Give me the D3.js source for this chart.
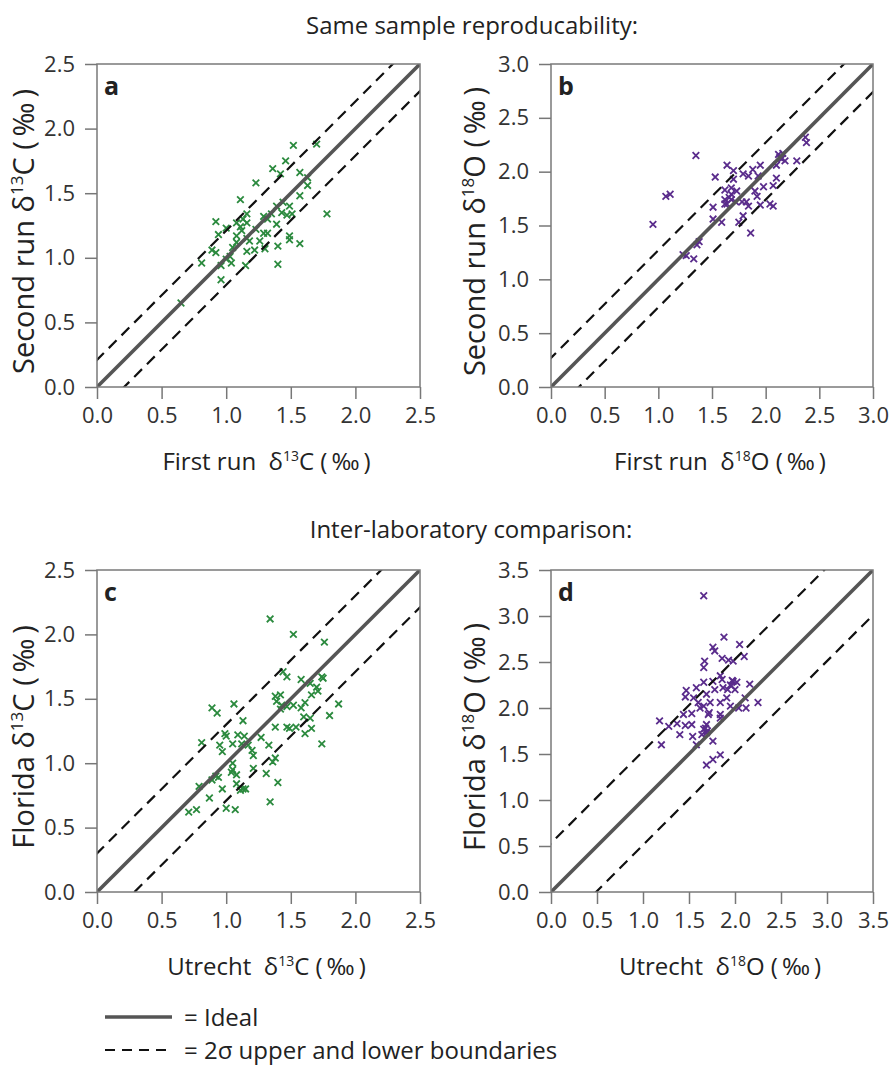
<!DOCTYPE html>
<html lang="en">
<head>
<meta charset="utf-8">
<title>Same sample reproducability / Inter-laboratory comparison</title>
<script src="https://d3js.org/d3.v7.min.js"></script>
<style>
  body { margin: 0; background: #fff; }
  svg text { font-family: "Open Sans", sans-serif; fill: #222; }
  .axis path { display: none; }
  .axis line { stroke: #777; stroke-width: 1.5; }
  .axis text { font-size: 22px; fill: #333; font-family: "Open Sans", sans-serif; }
</style>
</head>
<body>
<svg id="fig" width="896" height="1065"></svg>
<script>
// tick labels
var ticksC = [0, 0.5, 1.0, 1.5, 2.0, 2.5];
var ticksO3 = [0, 0.5, 1.0, 1.5, 2.0, 2.5, 3.0];
var ticksO35 = [0, 0.5, 1.0, 1.5, 2.0, 2.5, 3.0, 3.5];

// 2 sigma offsets from the 1:1 line [upper, lower]
var sigmaA = [0.21, 0.21];
var sigmaB = [0.27, 0.26];
var sigmaC = [0.30, 0.29];
var sigmaD = [0.53, 0.49];

// a: first vs second run d13C
var aFirst = [1.52,1.70,1.46,1.36,1.42,1.57,1.63,1.63,1.23,1.11,1.57,1.78,1.44,1.39,1.49,1.43,1.47,1.51,1.35,1.29,
  1.32,1.16,0.92,1.08,1.16,1.00,1.12,1.23,1.29,1.39,0.94,1.08,1.16,1.18,1.26,1.32,1.49,1.49,1.57,1.40,
  1.30,1.22,1.16,1.08,1.05,0.89,0.92,1.03,1.00,1.04,0.81,0.96,1.15,1.40,0.96,0.65,1.11,1.13];
var aSecond = [1.87,1.88,1.75,1.69,1.65,1.66,1.62,1.56,1.58,1.45,1.48,1.34,1.43,1.40,1.40,1.35,1.33,1.34,1.34,1.32,
  1.30,1.34,1.28,1.27,1.27,1.23,1.21,1.22,1.19,1.26,1.18,1.17,1.15,1.13,1.13,1.19,1.17,1.14,1.11,1.09,
  1.07,1.06,1.05,1.12,1.08,1.06,1.04,1.01,0.99,0.96,0.96,0.94,0.94,0.95,0.83,0.65,1.24,1.30];

// b: first vs second run d18O
var bFirst = [1.35,2.37,2.38,2.29,2.16,2.13,2.10,2.18,1.64,1.70,1.79,1.88,1.95,1.84,1.93,1.53,1.70,2.10,1.98,2.07,
  1.07,1.11,1.68,1.62,1.90,1.92,1.62,1.68,1.64,1.82,1.84,1.95,2.04,2.07,1.51,1.51,1.59,1.75,1.79,0.95,
  1.86,1.38,1.36,1.23,1.26,1.33,1.68,1.73,1.66,1.72,2.15,2.12,1.78,1.62];
var bSecond = [2.15,2.32,2.27,2.10,2.17,2.13,2.06,2.10,2.06,2.01,1.98,2.02,2.06,1.96,1.96,1.95,1.93,1.94,1.86,1.87,
  1.77,1.79,1.85,1.83,1.82,1.77,1.74,1.74,1.70,1.72,1.68,1.69,1.70,1.68,1.67,1.56,1.53,1.53,1.59,1.51,
  1.43,1.35,1.32,1.23,1.22,1.19,1.79,1.82,1.76,1.72,2.12,2.16,1.72,1.70];

// c: Utrecht vs Florida d13C
var cUtrecht = [1.34,1.52,1.76,1.44,1.47,1.58,1.65,1.74,1.75,1.70,1.71,1.66,1.38,1.42,1.39,1.43,1.47,1.52,1.58,1.61,
  1.42,1.87,1.80,1.60,1.65,0.89,0.93,1.06,1.13,1.38,1.47,1.49,1.54,1.61,1.66,1.74,0.99,1.00,1.09,1.14,
  1.05,1.12,1.17,1.20,1.27,1.33,0.81,0.95,0.97,1.21,1.05,1.38,1.36,1.05,1.08,0.92,0.94,1.31,1.08,1.13,
  1.11,0.79,0.97,1.21,1.40,0.87,1.34,0.71,0.77,1.00,1.07,1.04,0.89,1.15];
var cFlorida = [2.12,2.00,1.94,1.71,1.67,1.65,1.62,1.67,1.66,1.59,1.56,1.53,1.52,1.53,1.48,1.45,1.44,1.45,1.43,1.47,
  1.42,1.46,1.37,1.36,1.35,1.43,1.39,1.46,1.33,1.28,1.28,1.27,1.28,1.23,1.27,1.15,1.23,1.21,1.22,1.21,
  1.15,1.15,1.14,1.10,1.20,1.14,1.16,1.14,1.09,1.06,1.00,1.04,1.01,0.95,0.91,0.90,0.89,0.92,0.84,0.80,
  0.79,0.82,0.80,0.96,0.85,0.73,0.70,0.62,0.64,0.65,0.64,0.93,0.87,0.80];

// d: Utrecht vs Florida d18O
var dUtrecht = [1.66,1.88,2.05,2.10,1.76,1.78,1.86,1.93,1.98,1.67,1.66,1.84,1.86,1.76,1.66,1.98,2.02,1.96,2.00,2.16,
  1.47,1.58,1.78,1.87,1.46,1.55,1.69,1.73,1.91,1.84,2.11,2.25,1.60,1.66,1.95,2.04,2.12,1.44,1.53,1.71,
  1.84,1.84,1.18,1.28,1.37,1.46,1.53,1.69,1.66,1.64,1.69,1.40,1.54,1.76,1.58,1.20,1.84,1.76,1.69,
  1.95,1.97,1.92,1.70,1.68,1.72,1.62];
var dFlorida = [3.22,2.77,2.69,2.56,2.66,2.62,2.54,2.52,2.51,2.51,2.44,2.35,2.31,2.29,2.28,2.29,2.28,2.24,2.20,2.26,
  2.19,2.22,2.20,2.22,2.12,2.11,2.15,2.06,2.11,2.06,2.11,2.06,2.06,2.02,2.02,2.00,2.00,1.93,1.94,1.93,
  1.93,1.89,1.86,1.80,1.83,1.81,1.82,1.82,1.77,1.71,1.73,1.71,1.69,1.64,1.60,1.60,1.49,1.44,1.38,
  2.25,2.30,2.20,1.75,1.78,1.95,2.00];

var green = "#2b8a3e";
var purple = "#5a2c8c";

var svg = d3.select("#fig");

//panel layout
var permil = " (\u2009\u2030\u2009)";
var panels = [
  {letter: "a", left: 97, top: 64, w: 323, h: 323, max: 2.5, ticks: ticksC, sigma: sigmaA,
   xs: aFirst, ys: aSecond, color: green,
   xLabel: ["First run  \u03b4", "13", "C" + permil], yLabel: ["Second run \u03b4", "13", "C" + permil], yTitleX: 34},
  {letter: "b", left: 551, top: 64, w: 322, h: 323, max: 3.0, ticks: ticksO3, sigma: sigmaB,
   xs: bFirst, ys: bSecond, color: purple,
   xLabel: ["First run  \u03b4", "18", "O" + permil], yLabel: ["Second run \u03b4", "18", "O" + permil], yTitleX: 485},
  {letter: "c", left: 97, top: 570, w: 323, h: 322, max: 2.5, ticks: ticksC, sigma: sigmaC,
   xs: cUtrecht, ys: cFlorida, color: green,
   xLabel: ["Utrecht  \u03b4", "13", "C" + permil], yLabel: ["Florida \u03b4", "13", "C" + permil], yTitleX: 34},
  {letter: "d", left: 551, top: 570, w: 322, h: 322, max: 3.5, ticks: ticksO35, sigma: sigmaD,
   xs: dUtrecht, ys: dFlorida, color: purple,
   xLabel: ["Utrecht  \u03b4", "18", "O" + permil], yLabel: ["Florida \u03b4", "18", "O" + permil], yTitleX: 485}
];

//text with a superscript in the middle
function supText(sel, parts, size) {
  sel.append("tspan").text(parts[0]);
  sel.append("tspan").text(parts[1])
     .attr("font-size", Math.round(size * 0.6) + "px")
     .attr("dy", -size * 0.38);
  sel.append("tspan").text(parts[2])
     .attr("dy", size * 0.38);
}

panels.forEach(function(p, i) {
  var x = d3.scaleLinear().domain([0, p.max]).range([0, p.w]);
  var y = d3.scaleLinear().domain([0, p.max]).range([p.h, 0]);

  var g = svg.append("g").attr("transform", "translate(" + p.left + "," + p.top + ")");

  g.append("clipPath").attr("id", "clip" + i)
   .append("rect").attr("width", p.w).attr("height", p.h);

  var plot = g.append("g").attr("clip-path", "url(#clip" + i + ")");

  //markers
  var pts = p.xs.map(function(d, j) { return [d, p.ys[j]]; });
  plot.selectAll("path.pt")
      .data(pts)
      .enter()
      .append("path")
      .attr("class", "pt")
      .attr("d", "M-3.3,-3.3L3.3,3.3M-3.3,3.3L3.3,-3.3")
      .attr("transform", function(d) { return "translate(" + x(d[0]) + "," + y(d[1]) + ")"; })
      .attr("stroke", p.color)
      .attr("stroke-width", 1.8)
      .attr("fill", "none");

  var line = d3.line()
               .x(function(d) { return x(d[0]); })
               .y(function(d) { return y(d[1]); });

  //2 sigma boundaries
  [p.sigma[0], -p.sigma[1]].forEach(function(off) {
    plot.append("path")
        .attr("d", line([[-0.5, -0.5 + off], [p.max + 0.5, p.max + 0.5 + off]]))
        .attr("stroke", "#111")
        .attr("stroke-width", 2.2)
        .attr("stroke-dasharray", "11,7")
        .attr("fill", "none");
  });

  //ideal 1:1
  plot.append("path")
      .attr("d", line([[0, 0], [p.max, p.max]]))
      .attr("stroke", "#555")
      .attr("stroke-width", 3.6)
      .attr("fill", "none");

  //frame
  g.append("rect")
   .attr("width", p.w).attr("height", p.h)
   .attr("fill", "none")
   .attr("stroke", "#7a7a7a")
   .attr("stroke-width", 1.5);

  //axes
  g.append("g")
   .attr("class", "axis")
   .attr("transform", "translate(0," + p.h + ")")
   .call(d3.axisBottom(x).tickValues(p.ticks).tickFormat(d3.format(".1f")).tickSize(12).tickPadding(8));

  g.append("g")
   .attr("class", "axis")
   .call(d3.axisLeft(y).tickValues(p.ticks).tickFormat(d3.format(".1f")).tickSize(12).tickPadding(10));

  //panel letter
  g.append("text")
   .attr("x", 7).attr("y", 31)
   .attr("font-size", "25px")
   .attr("font-weight", "bold")
   .text(p.letter);

  //axis titles
  var xt = g.append("text")
            .attr("x", p.w / 2 + 8).attr("y", p.h + 83)
            .attr("text-anchor", "middle")
            .attr("font-size", "24px")
            .style("white-space", "pre");
  supText(xt, p.xLabel, 24);

  var yt = svg.append("text")
              .attr("transform", "translate(" + p.yTitleX + "," + (p.top + p.h / 2 + 6) + ") rotate(-90)")
              .attr("text-anchor", "middle")
              .attr("font-size", "29px")
              .style("white-space", "pre");
  supText(yt, p.yLabel, 29);
});

//section titles
svg.append("text").attr("x", 472).attr("y", 34).attr("text-anchor", "middle")
   .attr("font-size", "24px").text("Same sample reproducability:");
svg.append("text").attr("x", 471).attr("y", 538).attr("text-anchor", "middle")
   .attr("font-size", "24px").text("Inter-laboratory comparison:");

//legend
var legend = svg.append("g");
legend.append("line").attr("x1", 105).attr("x2", 172).attr("y1", 1017).attr("y2", 1017)
      .attr("stroke", "#555").attr("stroke-width", 3.6);
legend.append("text").attr("x", 184).attr("y", 1026).attr("font-size", "24px").text("= Ideal");
legend.append("line").attr("x1", 105).attr("x2", 172).attr("y1", 1050).attr("y2", 1050)
      .attr("stroke", "#111").attr("stroke-width", 2.2).attr("stroke-dasharray", "10,7");
legend.append("text").attr("x", 184).attr("y", 1059).attr("font-size", "24px")
      .text("= 2\u03c3 upper and lower boundaries");
</script>
</body>
</html>
